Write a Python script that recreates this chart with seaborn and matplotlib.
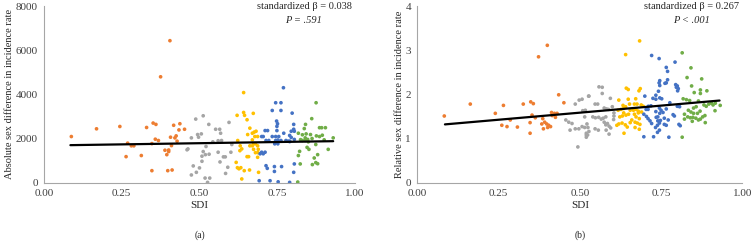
import pandas as pd
import matplotlib
matplotlib.use('Agg')
import matplotlib.pyplot as plt
import seaborn as sns

# SDI groups (colour by quintile)
groups = ['low', 'low-middle', 'middle', 'high-middle', 'high']
colors = ['#ED7D31', '#A5A5A5', '#FFC000', '#4472C4', '#70AD47']

# Panel (a): absolute sex difference in incidence rate
a_low_x = [0.088, 0.169, 0.244, 0.269, 0.281, 0.289, 0.264, 0.313, 0.33, 0.351, 0.36, 0.358, 0.368, 0.347, 0.389, 0.401,
           0.401, 0.395, 0.347, 0.398, 0.412, 0.407, 0.417, 0.421, 0.425, 0.428, 0.434, 0.437, 0.452, 0.41, 0.405, 0.375]
a_low_y = [2090, 2440, 2545, 1790, 1670, 1670, 1180, 1230, 2500, 2700, 2640, 1970, 1910, 1770, 1470, 1480,
           1410, 1270, 545, 545, 575, 2060, 2600, 2030, 2120, 1880, 2390, 2670, 2420, 1680, 6430, 4795]
a_lowmid_x = [0.512, 0.488, 0.53, 0.474, 0.494, 0.506, 0.497, 0.543, 0.46, 0.463, 0.512, 0.519, 0.508, 0.531, 0.521, 0.508,
              0.48, 0.5, 0.49, 0.474, 0.518, 0.533, 0.526, 0.56, 0.552, 0.565, 0.595, 0.568, 0.571, 0.566, 0.577, 0.583,
              0.591, 0.584, 0.601, 0.604, 0.56]
a_lowmid_y = [3030, 2880, 2640, 2030, 2180, 2210, 2060, 1850, 1490, 1530, 1410, 1270, 1200, 1290, 1640, 970,
              760, 670, 470, 350, 210, 210, 15, 1380, 2420, 2420, 2730, 2240, 1910, 940, 1170, 1170,
              700, 420, 1380, 1730, 1900]
a_mid_x = [0.642, 0.621, 0.642, 0.645, 0.673, 0.653, 0.662, 0.655, 0.67, 0.676, 0.682, 0.678, 0.687, 0.67, 0.623, 0.674,
           0.68, 0.662, 0.67, 0.687, 0.674, 0.689, 0.68, 0.688, 0.631, 0.636, 0.63, 0.618, 0.622, 0.627, 0.633, 0.653,
           0.658, 0.644, 0.661, 0.636, 0.69, 0.687]
a_mid_y = [4080, 3050, 3180, 3050, 3140, 2850, 2470, 2180, 2240, 2290, 2330, 2090, 2090, 1940, 1910, 1760,
           1760, 1670, 1670, 1670, 1510, 1510, 1360, 1360, 1670, 1530, 1450, 920, 680, 630, 680, 1180,
           1180, 545, 575, 170, 470, 1150]
a_highmid_x = [0.77, 0.745, 0.762, 0.734, 0.762, 0.748, 0.751, 0.749, 0.711, 0.719, 0.749, 0.771, 0.70, 0.705, 0.734, 0.745,
               0.755, 0.714, 0.723, 0.745, 0.752, 0.762, 0.778, 0.742, 0.752, 0.70, 0.711, 0.695, 0.705, 0.714, 0.718, 0.741,
               0.741, 0.764, 0.692, 0.727, 0.753, 0.798, 0.803, 0.803, 0.795, 0.805, 0.79, 0.795, 0.805, 0.79, 0.785, 0.79,
               0.805, 0.803, 0.79]
a_highmid_y = [4300, 3620, 3620, 3270, 3270, 2790, 2670, 2550, 2360, 2360, 2360, 2240, 2090, 2090, 2090, 2090,
               2090, 1910, 1910, 1910, 1930, 1910, 1910, 1760, 1760, 1380, 1380, 1310, 1310, 770, 650, 730,
               510, 730, 90, 90, 40, 3150, 2640, 2420, 2330, 2330, 2140, 2050, 1960, 1860, 1880, 1880,
               850, 470, 15]
a_high_x = [0.875, 0.861, 0.841, 0.837, 0.886, 0.893, 0.905, 0.818, 0.831, 0.843, 0.857, 0.895, 0.876, 0.886, 0.93, 0.84,
            0.848, 0.901, 0.831, 0.84, 0.874, 0.846, 0.852, 0.822, 0.818, 0.914, 0.88, 0.869, 0.824, 0.863, 0.874, 0.88,
            0.816, 0.825, 0.862, 0.85]
a_high_y = [3620, 2900, 2640, 2450, 2490, 2490, 2490, 2240, 2170, 2210, 2180, 2150, 2120, 2090, 2030, 2030,
            1960, 1940, 1910, 1910, 1730, 1600, 1510, 1420, 1230, 1510, 1270, 1120, 850, 820, 910, 860,
            30, 1950, 2000, 1850]

# Panel (b): relative sex difference in incidence rate
b_low_x = [0.083, 0.163, 0.24, 0.265, 0.26, 0.276, 0.286, 0.308, 0.40, 0.373, 0.326, 0.349, 0.357, 0.435, 0.451, 0.353,
           0.363, 0.347, 0.347, 0.386, 0.392, 0.398, 0.404, 0.41, 0.383, 0.388, 0.413, 0.422, 0.43, 0.415, 0.425, 0.401]
b_low_y = [1.51, 1.78, 1.57, 1.75, 1.30, 1.27, 1.42, 1.26, 3.11, 2.85, 1.78, 1.83, 1.79, 1.99, 1.81, 1.53,
           1.47, 1.36, 1.12, 1.45, 1.37, 1.33, 1.30, 1.27, 1.33, 1.22, 1.59, 1.57, 1.57, 1.52, 1.48, 1.25]
b_lowmid_x = [0.498, 0.507, 0.527, 0.486, 0.509, 0.517, 0.494, 0.457, 0.466, 0.476, 0.47, 0.486, 0.497, 0.507, 0.515, 0.52,
              0.52, 0.515, 0.559, 0.569, 0.528, 0.569, 0.594, 0.547, 0.555, 0.575, 0.582, 0.588, 0.6, 0.54, 0.548, 0.558,
              0.566, 0.572, 0.58, 0.575, 0.585, 0.58, 0.59, 0.595, 0.581, 0.59, 0.604, 0.522, 0.525, 0.528, 0.524, 0.52,
              0.547, 0.557, 0.605, 0.605]
b_lowmid_y = [1.87, 1.89, 1.96, 1.78, 1.63, 1.64, 0.81, 1.42, 1.37, 1.34, 1.19, 1.22, 1.22, 1.27, 1.25, 1.08,
              1.12, 1.49, 2.17, 2.16, 1.96, 2.02, 1.91, 1.78, 1.78, 1.69, 1.67, 1.66, 1.72, 1.49, 1.47, 1.48,
              1.44, 1.46, 1.49, 1.37, 1.34, 1.31, 1.28, 1.24, 1.19, 1.10, 1.43, 1.33, 1.25, 1.16, 1.08, 1.03,
              1.22, 1.19, 1.58, 1.51]
b_mid_x = [0.684, 0.641, 0.643, 0.649, 0.682, 0.686, 0.62, 0.649, 0.672, 0.653, 0.668, 0.676, 0.633, 0.641, 0.689, 0.695,
           0.618, 0.627, 0.635, 0.655, 0.665, 0.673, 0.68, 0.69, 0.635, 0.642, 0.65, 0.668, 0.68, 0.623, 0.631, 0.673,
           0.683, 0.66, 0.67, 0.614, 0.62, 0.63, 0.64, 0.646, 0.677, 0.685, 0.655, 0.636, 0.67, 0.683]
b_mid_y = [3.21, 2.90, 2.14, 2.11, 2.08, 2.13, 1.87, 1.89, 1.90, 1.78, 1.78, 1.78, 1.75, 1.72, 1.76, 1.73,
           1.64, 1.66, 1.68, 1.64, 1.64, 1.66, 1.62, 1.60, 1.58, 1.53, 1.55, 1.55, 1.58, 1.49, 1.51, 1.49,
           1.45, 1.42, 1.37, 1.30, 1.33, 1.35, 1.31, 1.26, 1.35, 1.32, 1.36, 1.12, 1.25, 1.21]
b_highmid_x = [0.721, 0.744, 0.744, 0.746, 0.742, 0.734, 0.70, 0.725, 0.734, 0.711, 0.719, 0.704, 0.71, 0.697, 0.705, 0.71,
               0.716, 0.721, 0.734, 0.745, 0.75, 0.74, 0.745, 0.74, 0.697, 0.727, 0.745, 0.793, 0.766, 0.77, 0.746,
               0.762, 0.766, 0.77, 0.795, 0.80, 0.797, 0.803, 0.801, 0.746, 0.752, 0.777, 0.80, 0.804, 0.807, 0.766,
               0.746, 0.756, 0.735, 0.787, 0.791, 0.748, 0.76, 0.76, 0.772, 0.739, 0.733, 0.766, 0.805, 0.809, 0.739, 0.774]
b_highmid_y = [2.88, 2.81, 2.26, 2.20, 2.07, 1.98, 1.96, 1.91, 1.89, 1.73, 1.74, 1.66, 1.66, 1.55, 1.50, 1.45,
               1.40, 1.34, 1.61, 1.69, 1.64, 1.40, 1.35, 1.49, 1.04, 1.04, 1.19, 2.73, 2.61, 2.52, 2.31,
               2.25, 2.26, 2.33, 2.22, 2.19, 2.16, 2.13, 2.08, 1.92, 1.90, 1.81, 1.73, 1.75, 1.72, 1.67,
               1.57, 1.59, 1.48, 1.54, 1.51, 1.41, 1.46, 1.32, 1.42, 1.30, 1.25, 1.30, 1.32, 1.29, 1.14, 1.03]
b_high_x = [0.815, 0.842, 0.83, 0.875, 0.844, 0.871, 0.852, 0.891, 0.871, 0.818, 0.828, 0.838, 0.865, 0.85, 0.858, 0.882,
            0.889, 0.897, 0.905, 0.91, 0.917, 0.932, 0.834, 0.842, 0.85, 0.862, 0.87, 0.916, 0.822, 0.832, 0.84, 0.848,
            0.857, 0.822, 0.865, 0.871, 0.878, 0.885, 0.846, 0.886, 0.815]
b_high_y = [2.94, 2.60, 2.38, 2.35, 2.19, 2.10, 2.04, 2.08, 2.02, 1.90, 1.88, 1.86, 1.85, 1.69, 1.72, 1.76,
            1.73, 1.78, 1.80, 1.76, 1.80, 1.75, 1.64, 1.60, 1.57, 1.57, 1.62, 1.63, 1.55, 1.49, 1.47, 1.48,
            1.46, 1.44, 1.42, 1.44, 1.49, 1.52, 1.39, 1.36, 1.03]

# fitted trend lines (read at the ends of the SDI range)
trend_x = [0.085, 0.93]
trend_a = [1700, 1880]
trend_b = [1.32, 1.86]


def make_df(xs, ys):
    parts = []
    for g, x, y in zip(groups, xs, ys):
        parts.append(pd.DataFrame({'SDI': x, 'value': y, 'group': g}))
    return pd.concat(parts, ignore_index=True)


df_a = make_df([a_low_x, a_lowmid_x, a_mid_x, a_highmid_x, a_high_x],
               [a_low_y, a_lowmid_y, a_mid_y, a_highmid_y, a_high_y])
df_b = make_df([b_low_x, b_lowmid_x, b_mid_x, b_highmid_x, b_high_x],
               [b_low_y, b_lowmid_y, b_mid_y, b_highmid_y, b_high_y])

sns.set_theme(style='white')
plt.rcParams['font.family'] = ['Liberation Serif', 'DejaVu Serif']

fig = plt.figure(figsize=(7.53, 2.46), dpi=100)
ax1 = fig.add_axes([0.0584, 0.2573, 0.4130, 0.7183])
ax2 = fig.add_axes([0.5542, 0.2573, 0.4316, 0.7183])

panels = [
    (ax1, df_a, trend_a, 'Absolute sex difference in incidence rate', [0, 2000, 4000, 6000, 8000], 8000,
     'standardized β = 0.038', 'P = .591', 0.836, '(a)'),
    (ax2, df_b, trend_b, 'Relative sex difference in incidence rate', [0, 1, 2, 3, 4], 4,
     'standardized β = 0.267', 'P < .001', 0.844, '(b)'),
]

for ax, df, trend, ylabel, yticks, ymax, beta, ptxt, tx, tag in panels:
    sns.scatterplot(data=df, x='SDI', y='value', hue='group', palette=colors, hue_order=groups,
                    s=7, linewidth=0, legend=False, ax=ax, zorder=2)
    ax.plot(trend_x, trend, color='black', lw=1.6, zorder=3)
    ax.set_xlim(0, 1)
    ax.set_ylim(0, ymax)
    ax.set_xticks([0, 0.25, 0.5, 0.75, 1.0])
    ax.set_xticklabels(['0.00', '0.25', '0.50', '0.75', '1.00'])
    ax.set_yticks(yticks)
    ax.set_ylabel(ylabel, fontsize=7.5, color='#262626', labelpad=1)
    ax.set_xlabel('SDI', fontsize=8, color='#262626', labelpad=2)
    ax.tick_params(axis='both', labelsize=8, colors='#404040', length=2.5, width=0.6, pad=2)
    for side in ['top', 'right']:
        ax.spines[side].set_visible(False)
    for side in ['left', 'bottom']:
        ax.spines[side].set_color('#A6A6A6')
        ax.spines[side].set_linewidth(0.8)
    ax.text(tx, 0.995, beta, transform=ax.transAxes, ha='center', va='center', fontsize=7.5, color='#262626')
    ax.text(tx, 0.92, ptxt, transform=ax.transAxes, ha='center', va='center', fontsize=7.5,
            color='#262626', style='italic')
    pos = ax.get_position()
    fig.text((pos.x0 + pos.x1) / 2, 0.045, tag, ha='center', va='center', fontsize=7, color='#262626')

fig.savefig('out.png', dpi=100)
